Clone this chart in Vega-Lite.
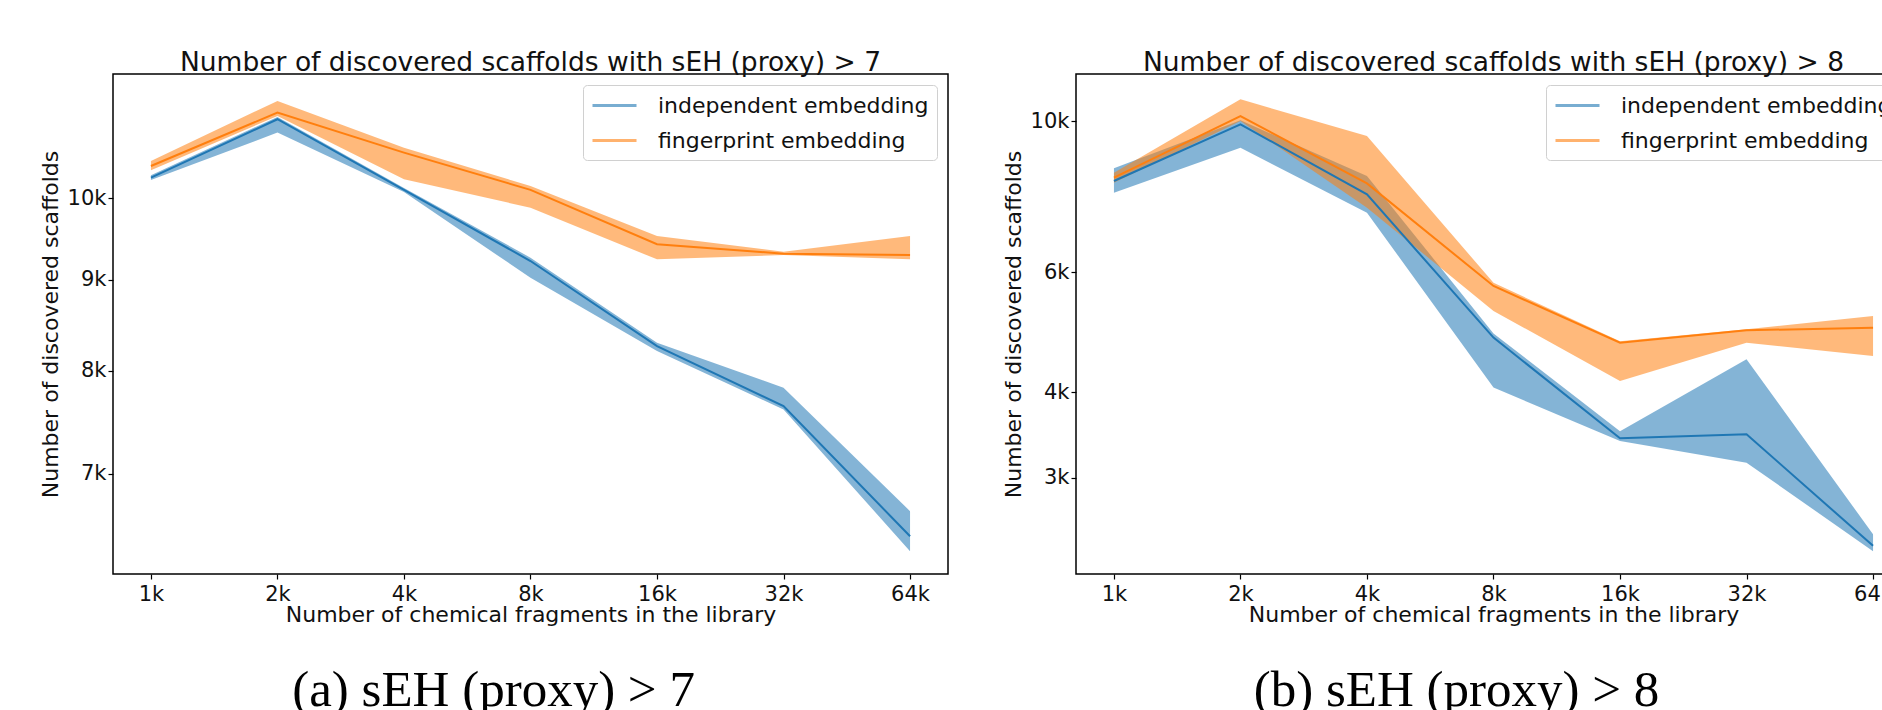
{
  "$schema": "https://vega.github.io/schema/vega-lite/v6.json",
  "background": "white",
  "padding": {"left": 38, "top": 48, "right": 0, "bottom": 0},
  "spacing": 52,
  "datasets": {
    "a": [
      {"series": "independent embedding", "n": 1000, "mean": 10270, "lo": 10240, "hi": 10302},
      {"series": "independent embedding", "n": 2000, "mean": 11077, "lo": 10887, "hi": 11110},
      {"series": "independent embedding", "n": 4000, "mean": 10108, "lo": 10080, "hi": 10135},
      {"series": "independent embedding", "n": 8000, "mean": 9220, "lo": 9023, "hi": 9260},
      {"series": "independent embedding", "n": 16000, "mean": 8259, "lo": 8206, "hi": 8294},
      {"series": "independent embedding", "n": 32000, "mean": 7642, "lo": 7609, "hi": 7825},
      {"series": "independent embedding", "n": 64000, "mean": 6457, "lo": 6333, "hi": 6670},
      {"series": "fingerprint embedding", "n": 1000, "mean": 10427, "lo": 10369, "hi": 10495},
      {"series": "fingerprint embedding", "n": 2000, "mean": 11173, "lo": 11125, "hi": 11343},
      {"series": "fingerprint embedding", "n": 4000, "mean": 10608, "lo": 10249, "hi": 10677},
      {"series": "fingerprint embedding", "n": 8000, "mean": 10110, "lo": 9879, "hi": 10160},
      {"series": "fingerprint embedding", "n": 16000, "mean": 9422, "lo": 9240, "hi": 9524},
      {"series": "fingerprint embedding", "n": 32000, "mean": 9308, "lo": 9292, "hi": 9332},
      {"series": "fingerprint embedding", "n": 64000, "mean": 9292, "lo": 9240, "hi": 9524}
    ],
    "b": [
      {"series": "independent embedding", "n": 1000, "mean": 8167, "lo": 7851, "hi": 8524},
      {"series": "independent embedding", "n": 2000, "mean": 9888, "lo": 9138, "hi": 10024},
      {"series": "independent embedding", "n": 4000, "mean": 7808, "lo": 7339, "hi": 8307},
      {"series": "independent embedding", "n": 8000, "mean": 4813, "lo": 4066, "hi": 4882},
      {"series": "independent embedding", "n": 16000, "mean": 3427, "lo": 3395, "hi": 3508},
      {"series": "independent embedding", "n": 32000, "mean": 3474, "lo": 3156, "hi": 4474},
      {"series": "independent embedding", "n": 64000, "mean": 2383, "lo": 2340, "hi": 2478},
      {"series": "fingerprint embedding", "n": 1000, "mean": 8259, "lo": 8121, "hi": 8400},
      {"series": "fingerprint embedding", "n": 2000, "mean": 10170, "lo": 10000, "hi": 10760},
      {"series": "fingerprint embedding", "n": 4000, "mean": 8100, "lo": 7463, "hi": 9507},
      {"series": "fingerprint embedding", "n": 8000, "mean": 5730, "lo": 5267, "hi": 5792},
      {"series": "fingerprint embedding", "n": 16000, "mean": 4732, "lo": 4158, "hi": 4755},
      {"series": "fingerprint embedding", "n": 32000, "mean": 4934, "lo": 4732, "hi": 4950},
      {"series": "fingerprint embedding", "n": 64000, "mean": 4978, "lo": 4524, "hi": 5178}
    ]
  },
  "config": {
    "font": "DejaVu Sans",
    "view": {"stroke": "#000", "strokeWidth": 1.5},
    "axis": {
      "domain": false, "grid": false, "tickColor": "#000", "tickSize": 5, "tickWidth": 1.2,
      "labelFont": "DejaVu Sans", "labelFontSize": 21, "labelColor": "#111",
      "titleFont": "DejaVu Sans", "titleFontSize": 22, "titleFontWeight": "normal", "titleColor": "#111"
    },
    "title": {"font": "DejaVu Sans", "fontSize": 26.5, "fontWeight": "normal", "color": "#111"},
    "legend": {
      "orient": "top-right", "offset": 11, "labelLimit": 500,
      "labelFont": "DejaVu Sans", "labelFontSize": 22, "labelColor": "#111",
      "symbolType": "M-1,0H3", "symbolSize": 484, "symbolStrokeWidth": 3, "symbolOpacity": 0.6,
      "labelOffset": 42, "padding": 8, "rowPadding": 11,
      "fillColor": "rgba(255,255,255,0.8)", "strokeColor": "#d0d0d0", "cornerRadius": 4
    }
  },
  "hconcat": [
    {
      "title": {"text": "(a) sEH (proxy) > 7", "orient": "bottom", "font": "Liberation Serif", "fontSize": 51, "offset": 40, "anchor": "middle", "color": "#000"},
      "resolve": {"scale": {"color": "independent"}},
      "vconcat": [
        {
          "width": 835, "height": 500,
          "title": {"text": "Number of discovered scaffolds with sEH (proxy) > 7", "offset": -2},
          "data": {"name": "a"},
          "encoding": {
            "x": {"field": "n", "type": "quantitative",
              "scale": {"type": "log", "base": 2, "domain": [812.3, 78793], "nice": false},
              "axis": {"values": [1000, 2000, 4000, 8000, 16000, 32000, 64000], "labelExpr": "datum.value/1000 + 'k'", "title": "Number of chemical fragments in the library", "titlePadding": 0, "labelPadding": 4, "labelFlush": false}},
            "color": {"field": "series", "type": "nominal", "title": null,
              "scale": {"domain": ["independent embedding", "fingerprint embedding"], "range": ["#1f77b4", "#ff7f0e"]}}
          },
          "layer": [
            {"mark": {"type": "area", "opacity": 0.55},
             "encoding": {
               "y": {"field": "lo", "type": "quantitative", "scale": {"type": "log", "domain": [6149, 11745], "nice": false, "zero": false},
                 "axis": {"values": [7000, 8000, 9000, 10000], "labelExpr": "datum.value/1000 + 'k'", "title": "Number of discovered scaffolds", "titlePadding": 5, "labelPadding": 2}},
               "y2": {"field": "hi"}}},
            {"mark": {"type": "line", "strokeWidth": 2},
             "encoding": {
               "y": {"field": "mean", "type": "quantitative", "axis": {"values": [7000, 8000, 9000, 10000], "labelExpr": "datum.value/1000 + 'k'", "title": "Number of discovered scaffolds", "titlePadding": 5, "labelPadding": 2}}}}
          ]
        }
      ]
    },
    {
      "title": {"text": "(b) sEH (proxy) > 8", "orient": "bottom", "font": "Liberation Serif", "fontSize": 51, "offset": 40, "anchor": "middle", "color": "#000"},
      "resolve": {"scale": {"color": "independent"}},
      "vconcat": [
        {
          "width": 835, "height": 500,
          "title": {"text": "Number of discovered scaffolds with sEH (proxy) > 8", "offset": -2},
          "data": {"name": "b"},
          "encoding": {
            "x": {"field": "n", "type": "quantitative",
              "scale": {"type": "log", "base": 2, "domain": [812.3, 78793], "nice": false},
              "axis": {"values": [1000, 2000, 4000, 8000, 16000, 32000, 64000], "labelExpr": "datum.value/1000 + 'k'", "title": "Number of chemical fragments in the library", "titlePadding": 0, "labelPadding": 4, "labelFlush": false}},
            "color": {"field": "series", "type": "nominal", "title": null,
              "scale": {"domain": ["independent embedding", "fingerprint embedding"], "range": ["#1f77b4", "#ff7f0e"]}}
          },
          "layer": [
            {"mark": {"type": "area", "opacity": 0.55},
             "encoding": {
               "y": {"field": "lo", "type": "quantitative", "scale": {"type": "log", "domain": [2167, 11721], "nice": false, "zero": false},
                 "axis": {"values": [3000, 4000, 6000, 10000], "labelExpr": "datum.value/1000 + 'k'", "title": "Number of discovered scaffolds", "titlePadding": 5, "labelPadding": 2}},
               "y2": {"field": "hi"}}},
            {"mark": {"type": "line", "strokeWidth": 2},
             "encoding": {
               "y": {"field": "mean", "type": "quantitative", "axis": {"values": [3000, 4000, 6000, 10000], "labelExpr": "datum.value/1000 + 'k'", "title": "Number of discovered scaffolds", "titlePadding": 5, "labelPadding": 2}}}}
          ]
        }
      ]
    }
  ],
  "resolve": {"scale": {"color": "independent"}}
}
